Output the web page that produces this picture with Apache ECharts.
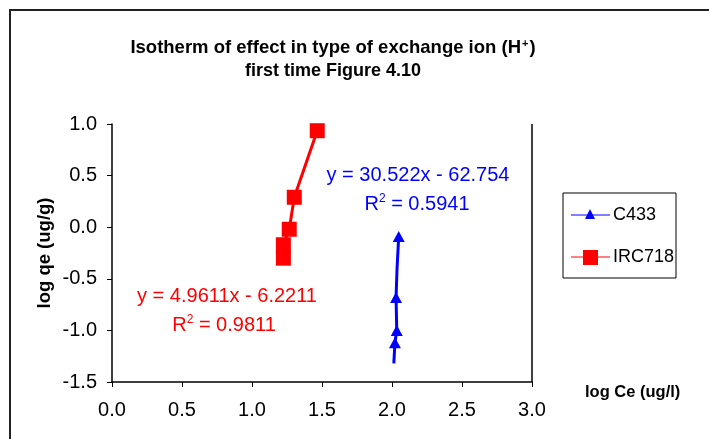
<!DOCTYPE html>
<html>
<head>
<meta charset="utf-8">
<script src="https://cdn.jsdelivr.net/npm/echarts@6/dist/echarts.min.js"></script>
<style>
  html, body { margin: 0; padding: 0; background: #fff; }
  #chart { width: 709px; height: 439px; }
</style>
</head>
<body>
<div id="chart"></div>
<script>
// log Ce (x) and log qe (y) pairs for each resin
const c433X = [2.013, 2.021, 2.034, 2.029, 2.036, 2.048];
const c433Y = [-1.32, -1.12, -1.00, -0.68, -0.40, -0.09];
const c433Marker = [false, true, true, true, false, true];

const irc718X = [1.224, 1.224, 1.266, 1.302, 1.466];
const irc718Y = [-0.30, -0.17, -0.02, 0.29, 0.935];

const xTicks = [0.0, 3.0, 0.5];   // min, max, interval
const yTicks = [-1.5, 1.0, 0.5];

const fontFam = 'Arial, "Liberation Sans", sans-serif';

const c433Data = c433X.map((x, i) => c433Marker[i]
  ? [x, c433Y[i]]
  : { value: [x, c433Y[i]], symbol: 'none' });
const irc718Data = irc718X.map((x, i) => [x, irc718Y[i]]);

const chart = echarts.init(document.getElementById('chart'), null, { renderer: 'canvas' });

chart.setOption({
  animation: false,
  backgroundColor: '#ffffff',
  grid: { left: 112, top: 124, width: 420, height: 258, show: false },
  xAxis: {
    type: 'value',
    min: xTicks[0], max: xTicks[1], interval: xTicks[2],
    axisLine: { onZero: false, lineStyle: { color: '#000', width: 1.5 } },
    axisTick: { show: true, length: 5, lineStyle: { color: '#000' } },
    axisLabel: {
      fontFamily: fontFam, fontSize: 20, color: '#000', margin: 18,
      formatter: v => v.toFixed(1)
    },
    splitLine: { show: false }
  },
  yAxis: {
    type: 'value',
    min: yTicks[0], max: yTicks[1], interval: yTicks[2],
    axisLine: { onZero: false, lineStyle: { color: '#000', width: 1.5 } },
    axisTick: { show: true, length: 5, lineStyle: { color: '#000' } },
    axisLabel: {
      fontFamily: fontFam, fontSize: 20, color: '#000', margin: 15,
      formatter: v => v.toFixed(1)
    },
    splitLine: { show: false }
  },
  legend: { show: false },
  series: [
    {
      name: 'C433',
      type: 'line',
      data: c433Data,
      symbol: 'triangle',
      symbolSize: [12, 11],
      showAllSymbol: true,
      lineStyle: { color: '#0000ff', width: 3 },
      itemStyle: { color: '#0000ff' },
      z: 3
    },
    {
      name: 'IRC718',
      type: 'line',
      data: irc718Data,
      symbol: 'rect',
      symbolSize: 15,
      showAllSymbol: true,
      lineStyle: { color: '#ff0000', width: 3 },
      itemStyle: { color: '#ff0000' },
      z: 4
    }
  ],
  graphic: [
    // outer chart frame
    { type: 'rect', shape: { x: 10, y: 10, width: 900, height: 900 },
      style: { fill: 'none', stroke: '#222', lineWidth: 2 }, z: 0 },
    // plot area right edge
    { type: 'line', shape: { x1: 532, y1: 124, x2: 532, y2: 382 },
      style: { stroke: '#000', lineWidth: 1.5 } },
    // chart title, two lines
    { type: 'text', x: 333, y: 48,
      style: { text: 'Isotherm of effect in type of exchange ion (H{sup|+})',
               font: 'bold 18.5px ' + fontFam, fill: '#000',
               textAlign: 'center', textVerticalAlign: 'middle',
               rich: { sup: { font: 'bold 11px ' + fontFam, fill: '#000', padding: [0, 1, 9, 1] } } } },
    { type: 'text', x: 333, y: 71,
      style: { text: 'first time Figure 4.10', font: 'bold 18px ' + fontFam, fill: '#000',
               textAlign: 'center', textVerticalAlign: 'middle' } },
    // axis titles
    { type: 'text', x: 45, y: 253, rotation: Math.PI / 2,
      style: { text: 'log qe (ug/g)', font: 'bold 18.5px ' + fontFam, fill: '#000',
               textAlign: 'center', textVerticalAlign: 'middle' } },
    { type: 'text', x: 585, y: 392,
      style: { text: 'log Ce (ug/l)', font: 'bold 16.5px ' + fontFam, fill: '#000',
               textAlign: 'left', textVerticalAlign: 'middle' } },
    // trendline equations
    { type: 'text', x: 418, y: 175,
      style: { text: 'y = 30.522x - 62.754', font: '20px ' + fontFam, fill: '#0000ff',
               textAlign: 'center', textVerticalAlign: 'middle' } },
    { type: 'text', x: 417, y: 204,
      style: { text: 'R{sup|2} = 0.5941', font: '20px ' + fontFam, fill: '#0000ff',
               textAlign: 'center', textVerticalAlign: 'middle',
               rich: { sup: { font: '12px ' + fontFam, fill: '#0000ff', padding: [0, 0, 10, 0] } } } },
    { type: 'text', x: 227, y: 296,
      style: { text: 'y = 4.9611x - 6.2211', font: '20px ' + fontFam, fill: '#ff0000',
               textAlign: 'center', textVerticalAlign: 'middle' } },
    { type: 'text', x: 224, y: 325,
      style: { text: 'R{sup|2} = 0.9811', font: '20px ' + fontFam, fill: '#ff0000',
               textAlign: 'center', textVerticalAlign: 'middle',
               rich: { sup: { font: '12px ' + fontFam, fill: '#ff0000', padding: [0, 0, 10, 0] } } } },
    // legend box
    { type: 'rect', shape: { x: 563, y: 193, width: 113, height: 85 },
      style: { fill: '#fff', stroke: '#000', lineWidth: 1 } },
    { type: 'line', shape: { x1: 571, y1: 215, x2: 610, y2: 215 },
      style: { stroke: '#0000ff', lineWidth: 1 } },
    { type: 'polygon', shape: { points: [[590, 209], [595, 219], [585, 219]] },
      style: { fill: '#0000ff' } },
    { type: 'text', x: 613, y: 215,
      style: { text: 'C433', font: '18px ' + fontFam, fill: '#000',
               textAlign: 'left', textVerticalAlign: 'middle' } },
    { type: 'line', shape: { x1: 571, y1: 257, x2: 610, y2: 257 },
      style: { stroke: '#ff0000', lineWidth: 1 } },
    { type: 'rect', shape: { x: 583, y: 250, width: 15, height: 15 },
      style: { fill: '#ff0000' } },
    { type: 'text', x: 613, y: 257,
      style: { text: 'IRC718', font: '18px ' + fontFam, fill: '#000',
               textAlign: 'left', textVerticalAlign: 'middle' } }
  ]
});
</script>
</body>
</html>
